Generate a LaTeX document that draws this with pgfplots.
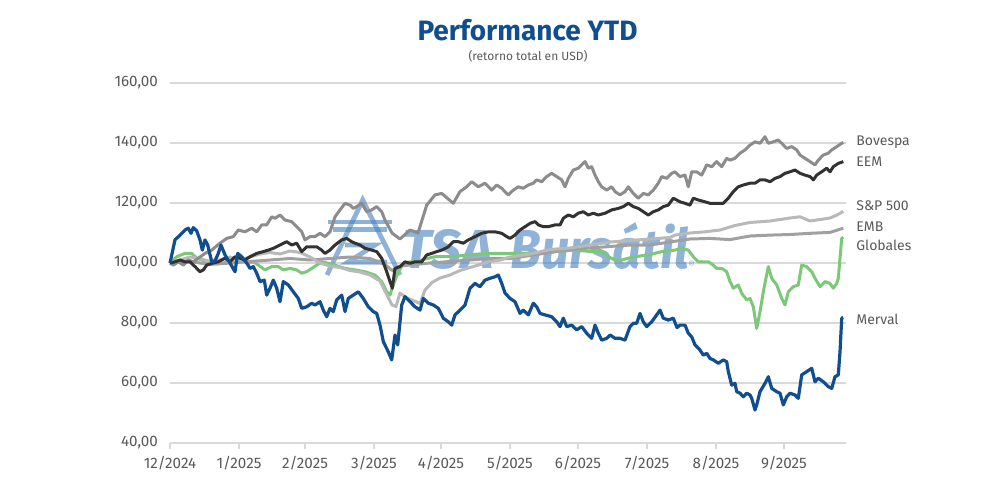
\documentclass[border=0pt]{standalone}
\usepackage{fontspec}
\setmainfont{Fira Sans}
\usepackage{pgfplots}
\usepackage{pgfplotstable}
\pgfplotsset{compat=1.18}
\definecolor{merval}{RGB}{16,78,142}
\definecolor{globales}{RGB}{125,200,120}
\definecolor{bovespa}{RGB}{140,140,140}
\definecolor{eem}{RGB}{50,50,50}
\definecolor{spx}{RGB}{185,185,185}
\definecolor{emb}{RGB}{160,160,160}
\definecolor{titleblue}{RGB}{16,78,142}
\definecolor{ticktext}{RGB}{89,89,89}
\definecolor{gridc}{RGB}{217,217,217}
\definecolor{wm}{RGB}{75,130,192}

\pgfplotstableread{
x y
0 100.0
5 107.7
10 109.3
15 111.0
18.3 111.6
21 109.9
23.3 111.8
26.7 110.7
30 107.7
32.3 104.3
35 107.7
37.7 106.0
41.7 100.4
45 100.7
48.3 103.2
51 106.0
55 102.7
60 100.0
65 97.1
67.7 103.2
71.7 102.1
76.7 100.0
80 98.2
83.3 98.8
86.7 96.6
90 93.8
94.3 94.3
96.7 89.3
100 91.6
103.3 94.3
106.7 91.6
110 87.1
113.3 93.8
118.3 92.7
123.3 90.4
128.3 88.2
131.7 84.9
136.7 85.4
141.7 86.6
145 86.0
150 87.1
153.3 84.3
156.7 82.1
160 84.9
163.3 83.8
166.7 87.7
171.7 89.3
175 83.8
178.3 88.2
183.3 89.3
188.3 90.4
193.3 88.2
198.3 85.4
203.3 83.8
206.7 83.2
210 79.3
213.3 73.8
218.3 70.4
221.7 67.7
225 76.0
227.7 72.7
231.7 86.0
235 88.8
240 87.1
245 85.4
250 84.3
253.3 88.2
258.3 86.6
263.3 86.0
268.3 84.9
273.3 81.6
278.3 80.4
281.7 79.3
285 82.7
290 84.3
295 86.0
300 91.6
305 93.2
310 92.1
315 94.3
320 94.9
325 95.4
328.3 96.0
331.7 93.2
335 90.0
340 88.2
345 87.1
350 83.2
353.3 84.3
358.3 82.7
363.3 86.6
366.7 85.4
370 83.2
375 82.7
381.7 82.1
386.7 80.4
390 78.8
393.3 81.6
396.7 78.8
401.7 79.3
406.7 77.7
411.7 78.8
416.7 76.6
421.7 74.9
425 79.3
428.3 76.6
431.7 74.3
436.7 74.9
440 76.0
445 74.9
450 74.9
455 74.3
460 78.8
463.3 79.9
466.7 79.9
470 83.2
473.3 80.4
476.7 78.8
481.7 80.4
486.7 82.7
490 84.3
493.3 81.6
498.3 81.0
503.3 81.6
507 78.5
510 79.3
515 79.3
518.3 76.6
521.7 75.4
525 72.7
530 71.0
533.3 69.3
536.7 69.9
540 68.2
543.3 67.7
548.3 66.6
553.3 67.7
556.7 67.1
558.3 63.8
561.7 59.3
565 59.9
566.7 57.1
570 56.6
573.3 55.4
576.7 56.6
580 56.0
581.7 54.9
585 51.0
586.7 52.7
590 57.1
595 59.9
598.3 62.1
601.7 58.2
606.7 57.1
610 56.6
613.3 52.7
616.7 55.4
620 56.6
625 56.0
628.3 54.9
631.7 62.7
636.7 63.8
641.7 64.9
645 60.4
648.3 61.6
653.3 60.4
658.3 58.8
661.7 58.2
665 62.1
668.3 62.7
670 70.4
671.7 81.6
673.3 81.8
}\merval

\pgfplotstableread{
x y
0 100.0
3.3 99.3
8.3 100.4
13.3 99.3
18.3 101.0
23.3 100.4
28.3 101.6
35 103.2
41.7 104.3
50 106.6
56.7 108.2
63.3 108.8
68.3 111.0
75 110.4
81.7 111.6
86.7 110.4
91.7 112.7
96.7 112.7
101.7 115.4
105 114.9
110 116.0
115 114.3
121.7 113.8
126.7 112.1
131.7 110.4
135 107.7
140 108.8
145 108.8
150 109.9
155 108.8
160 110.4
165 115.4
170 117.7
175 119.9
180 119.3
183.3 118.2
186.7 118.8
191.7 119.9
196.7 117.1
201.7 117.7
206.7 118.8
211.7 117.1
215 114.3
222 110.0
230 108.0
240 111.0
248 110.0
256.7 119.3
265 122.7
271.7 123.2
283.3 119.9
290 123.8
296.7 125.4
301.7 127.1
308.3 125.4
315 126.6
321.7 124.3
326.7 126.0
331.7 124.9
336.7 123.2
338.3 122.7
343.3 124.3
348.3 125.4
353.3 124.9
358.3 126.0
363.3 126.6
366.7 127.7
371.7 127.1
376.7 128.8
381.7 129.9
386.7 128.8
391.7 127.7
395 125.4
398.3 128.2
403.3 131.0
408.3 131.6
411.7 132.7
415 133.8
418.3 131.6
421.7 132.1
425 129.3
428.3 127.1
431.7 125.4
436.7 124.3
441.7 125.4
445 123.8
450 122.7
455 123.8
458.3 125.4
463.3 123.2
468.3 121.6
473.3 123.2
478.3 122.7
483.3 124.3
488.3 126.6
491.7 128.8
496.7 128.2
501.7 129.9
505 130.4
510 128.8
515 129.3
518.3 125.4
521.7 130.4
526.7 130.4
531.7 129.3
536.7 132.7
541.7 132.1
546.7 133.8
551.7 132.1
556.7 134.9
560 134.3
565 134.9
570 136.6
575 137.7
580 139.3
585 140.4
590 139.9
595 142.1
598.3 139.9
603.3 140.4
608.3 141.0
611.7 139.9
616.7 138.2
621.7 138.8
626.7 137.7
630 136.0
635 134.9
640 133.8
645 132.7
648.3 134.3
653.3 136.0
658.3 136.6
661.7 137.7
666.7 138.8
671.7 139.9
673.3 140.2
}\bovespa

\pgfplotstableread{
x y
0 100.0
5 100.4
10 101.0
15 100.4
20 100.4
25 98.8
30 97.1
33.3 97.7
36.7 99.3
41.7 99.9
48.3 100.4
55 101.6
60 100.4
65 102.1
70 101.6
75 101.0
80 102.1
86.7 103.2
93.3 103.8
98.3 104.3
103.3 104.9
110 106.0
116.7 107.1
121.7 106.0
126.7 106.6
131.7 103.8
136.7 105.4
141.7 105.4
146.7 105.4
151.7 104.3
155 103.2
160 104.3
165 106.0
171.7 107.7
176.7 108.2
181.7 107.1
185 106.6
190 106.0
195 104.9
201.7 104.3
206.7 103.8
211.7 101.6
216.7 97.1
220 93.8
222.3 91.6
225 98.2
230 98.8
235 100.4
240 99.9
245 100.4
251.7 100.4
256.7 102.7
261.7 103.2
266.7 103.8
271.7 104.3
278.3 105.4
283.3 107.1
288.3 107.1
293.3 106.6
298.3 107.7
305 108.8
311.7 109.9
318.3 110.4
325 110.4
331.7 109.9
336.7 108.8
340 108.2
345 109.3
350 111.0
355 112.1
360 113.2
365 113.8
368.3 112.7
373.3 112.1
378.3 112.1
385 112.7
390 112.7
393.3 114.9
398.3 116.0
403.3 115.4
408.3 116.6
413.3 117.1
418.3 116.0
423.3 116.6
428.3 116.0
435 116.6
441.7 117.7
448.3 118.2
453.3 118.8
458.3 119.9
463.3 118.8
468.3 118.2
473.3 117.1
478.3 116.0
483.3 117.1
488.3 117.7
493.3 118.8
498.3 119.3
503.3 121.6
510 120.4
515 119.9
520 119.3
523.3 121.6
528.3 121.0
535 120.4
540 119.9
546.7 119.9
553.3 119.9
558.3 121.6
563.3 123.8
568.3 125.4
573.3 126.0
580 126.6
585 126.6
590 127.7
595 127.7
600 127.1
605 128.2
610 128.8
615 129.9
620 130.4
625 131.0
630 129.9
635 129.3
640 128.8
643.3 127.7
646.7 129.3
651.7 130.4
656.7 131.6
660 130.4
663.3 132.1
668.3 133.2
673.3 133.8
}\eem

\pgfplotstableread{
x y
0 100.0
6.7 102.1
15 103.2
21.7 103.2
26.7 101.6
31.7 101.0
38.3 100.4
45 100.4
51.7 99.9
58.3 100.4
65 100.4
71.7 101.0
78.3 99.9
83.3 100.4
88.3 99.3
95 97.7
101.7 98.8
108.3 98.8
113.3 97.7
120 98.2
126.7 97.7
131.7 96.6
136.7 97.1
141.7 98.2
146.7 99.3
151.7 100.4
158.3 99.9
165 99.3
175 98.2
185 97.7
195 97.1
205 96.0
211.7 93.8
216.7 90.4
220 89.3
223.3 92.7
228.3 97.1
231.7 98.8
235 99.9
240 100.4
246.7 100.4
251.7 101.0
258.3 101.6
265 102.1
281.7 102.1
298.3 102.7
315 103.2
331.7 103.2
345 103.2
365 103.2
385 103.8
405 104.3
421.7 103.8
431.7 103.8
438.3 102.1
445 101.0
451.7 101.0
458.3 101.6
465 102.1
478.3 102.7
491.7 103.8
505 104.3
511.7 104.9
518.3 104.3
523.3 102.1
528.3 100.4
538.3 100.4
543.3 99.3
546.7 98.2
551.7 98.2
556.7 97.1
560 93.8
563.3 91.6
568.3 92.7
571.7 89.9
576.7 87.7
580 88.2
583.3 85.4
586.7 78.2
590 83.8
593.3 90.4
598.3 98.8
601.7 94.9
606.7 92.7
611.7 88.2
615 86.0
618.3 90.4
623.3 92.1
628.3 92.7
631.7 99.3
636.7 98.8
641.7 97.1
645 94.9
650 92.1
655 93.8
660 93.2
663.3 91.6
666.7 93.2
668.3 94.9
670 101.6
671.7 108.2
673.3 108.6
}\globales

\pgfplotstableread{
x y
0 100.0
10 101.0
20 102.0
30 101.5
40 100.5
50 101.0
60 102.0
70 101.0
80 102.0
90 103.0
100 103.5
110 103.0
120 104.0
130 103.5
140 102.0
150 100.0
160 99.0
170 98.5
180 97.5
190 97.0
200 96.0
210 94.0
216 90.0
222 86.0
226 85.5
230 90.0
236 88.5
243 87.5
250 86.5
255 91.0
262 93.5
270 95.0
280 96.0
290 97.5
300 98.5
310 99.5
320 100.5
330 101.0
340 102.0
360 103.0
380 104.5
400 105.0
420 106.0
440 107.0
460 107.5
480 108.0
500 108.5
505 109.3
520 110.0
535 110.4
550 111.0
565 112.5
580 113.5
600 114.0
620 115.0
630 115.4
640 114.0
650 114.5
660 115.0
667 116.0
673.3 117.2
}\spx

\pgfplotstableread{
x y
0 100.0
20 100.5
40 99.5
60 100.0
80 100.5
100 101.0
120 101.5
140 101.0
160 101.5
180 102.0
200 101.5
215 99.5
222 97.5
230 99.0
245 99.5
260 100.0
280 100.5
300 101.0
320 101.5
340 101.5
360 102.5
380 103.5
400 104.5
420 105.0
440 105.5
460 106.0
480 106.0
500 107.0
520 108.0
540 108.2
560 107.8
580 109.0
600 109.3
620 109.5
640 109.9
660 110.2
673.3 111.6
}\emb

\begin{document}
\begin{tikzpicture}[x=1pt,y=1pt]
\useasboundingbox (0,0) rectangle (500,250);
\node[font=\fontsize{14}{16}\selectfont\bfseries, text=titleblue] at (263.75,235) {Performance YTD};
\node[font=\fontsize{6}{7}\selectfont, text=ticktext] at (264,222) {(retorno total en USD)};
\begin{axis}[
  at={(85pt,28.5pt)}, anchor=south west,
  scale only axis, width=338pt, height=180pt,
  xmin=0, xmax=676, ymin=40, ymax=160,
  clip=false,
  axis x line*=bottom,
  axis y line*=left,
  y axis line style={draw=none},
  x axis line style={draw=gridc, line width=1pt, -},
  ytick={40,60,80,100,120,140,160},
  ytick style={draw=none},
  xtick={0,69,135,204,271,340,408,477,546,614},
  xticklabels={12/2024,1/2025,2/2025,3/2025,4/2025,5/2025,6/2025,7/2025,8/2025,9/2025},
  xtick style={draw=gridc, line width=0.75pt},
  tick align=outside,
  major tick length=3pt,
  ymajorgrids,
  grid style={draw=gridc, line width=0.9pt},
  ticklabel style={font=\fontsize{7.6}{9}\selectfont, text=ticktext},
  /pgf/number format/.cd, fixed, fixed zerofill, precision=2, use comma, assume math mode=true,
  /pgfplots/.cd,
  yticklabel style={xshift=0.5pt},
]
% watermark (logo and name)
\begin{scope}[opacity=0.62, draw=wm, line width=2.4pt]
\draw[line join=miter] (axis cs:157,96) -- (axis cs:192.7,121) -- (axis cs:230,96);
\draw (axis cs:158,113.7) -- (axis cs:222,113.7);
\draw (axis cs:163,111.2) -- (axis cs:217,111.2);
\draw[line join=miter] (axis cs:175,106) -- (axis cs:205,106) -- (axis cs:178,100.3) -- (axis cs:217,100.3);
\end{scope}
\node[font=\fontsize{27.5}{30}\selectfont\bfseries\itshape, text=wm, text opacity=0.62, anchor=base west, inner sep=0pt] at (axis cs:232,98.3) {TSA};
\node[font=\fontsize{27.5}{30}\selectfont\bfseries\itshape, text=wm, text opacity=0.62, anchor=base west, inner sep=0pt, xscale=0.92] at (axis cs:340,98.3) {Bursátil};
\node[font=\fontsize{5}{6}\selectfont, text=wm, text opacity=0.62, anchor=base west, inner sep=0pt] at (axis cs:518,98.3) {®};
% series
\addplot[globales, line width=1.5pt, line join=round] table[x=x,y=y] {\globales};
\addplot[emb, line width=1.5pt, line join=round] table[x=x,y=y] {\emb};
\addplot[spx, line width=1.5pt, line join=round] table[x=x,y=y] {\spx};
\addplot[bovespa, line width=1.5pt, line join=round] table[x=x,y=y] {\bovespa};
\addplot[eem, line width=1.5pt, line join=round] table[x=x,y=y] {\eem};
\addplot[merval, line width=1.6pt, line join=round] table[x=x,y=y] {\merval};
% series labels
\begin{scope}[every node/.style={anchor=west, font=\fontsize{7.0}{8}\selectfont, text=ticktext, inner sep=0pt}]
\node at (axis cs:686,140.3) {Bovespa};
\node at (axis cs:686,133.7) {EEM};
\node at (axis cs:686,119) {S\&P 500};
\node at (axis cs:686,112) {EMB};
\node at (axis cs:686,106) {Globales};
\node at (axis cs:686,81.3) {Merval};
\end{scope}
\end{axis}
\end{tikzpicture}
\end{document}
